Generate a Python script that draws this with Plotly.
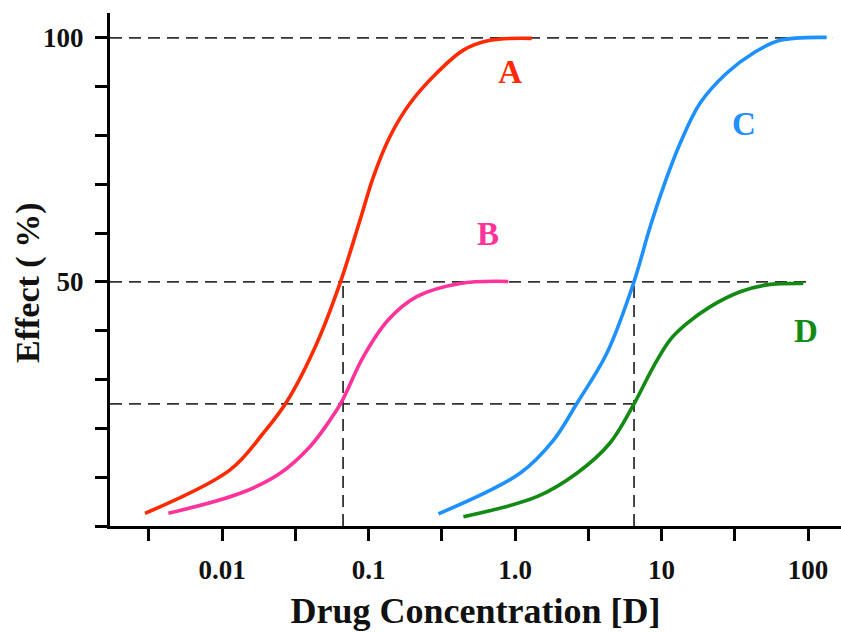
import plotly.graph_objects as go

# ---- data ----
a_x = [0.00298, 0.01135, 0.0191, 0.0277, 0.0443, 0.0638, 0.0875, 0.108, 0.140, 0.192, 0.292, 0.444, 0.675, 1.30]
a_y = [2.6, 11.5, 19.0, 25.5, 37.4, 49.7, 62.7, 71.6, 79.8, 86.6, 92.8, 97.5, 99.5, 99.9]

b_x = [0.0043, 0.0133, 0.0249, 0.0399, 0.0546, 0.0656, 0.0922, 0.136, 0.213, 0.422, 0.90]
b_y = [2.6, 6.7, 10.8, 16.3, 21.7, 25.5, 34.7, 42.2, 47.0, 49.7, 50.1]

c_x = [0.300, 1.08, 1.83, 2.64, 4.23, 6.43, 8.36, 10.3, 13.4, 18.3, 27.9, 42.4, 64.4, 134]
c_y = [2.5, 10.8, 17.6, 25.1, 35.4, 49.7, 61.3, 69.5, 78.4, 86.6, 92.8, 96.9, 99.5, 100.1]

d_x = [0.444, 1.41, 2.64, 4.45, 6.43, 8.79, 11.4, 14.9, 21.4, 34.4, 52.2, 92.9]
d_y = [1.9, 6.0, 10.8, 17.0, 24.8, 32.6, 38.1, 41.5, 44.9, 48.0, 49.4, 49.7]

ec50_ab = 0.067
ec50_cd = 6.49
levels = [100, 50, 25]
level_ends = [146, 106, 6.49]

x_tickvals = [0.00316, 0.01, 0.0316, 0.1, 0.316, 1, 3.16, 10, 31.6, 100]
x_ticktext = ["", "0.01", "", "0.1", "", "1.0", "", "10", "", "100"]
y_tickvals = [0, 10, 20, 30, 40, 50, 60, 70, 80, 90, 100]
y_ticktext = ["", "", "", "", "", "50", "", "", "", "", "100"]

labels = ["A", "B", "C", "D"]
colors = ["#FF2A00", "#FF3399", "#1E90FF", "#138A13"]

x_title = "Drug Concentration [D]"
y_title = "Effect ( %)"

x_range_log = [-2.765, 2.225]
x_left = 10 ** x_range_log[0]

FONT = "Liberation Serif, Times New Roman, serif"
DASH_COLOR = "#333333"

fig = go.Figure()

# dashed reference lines
for lvl, xe in zip(levels, level_ends):
    fig.add_trace(go.Scatter(x=[x_left, xe], y=[lvl, lvl], mode="lines",
                             line=dict(color=DASH_COLOR, width=1.8, dash="12px,7px"),
                             hoverinfo="skip", showlegend=False))
for xv in [ec50_ab, ec50_cd]:
    fig.add_trace(go.Scatter(x=[xv, xv], y=[0, 50], mode="lines",
                             line=dict(color=DASH_COLOR, width=1.8, dash="12px,7px"),
                             hoverinfo="skip", showlegend=False))

# curves
for xs, ys, col in zip([a_x, b_x, c_x, d_x], [a_y, b_y, c_y, d_y], colors):
    fig.add_trace(go.Scatter(x=xs, y=ys, mode="lines",
                             line=dict(color=col, width=3.6, shape="spline", smoothing=1.0),
                             showlegend=False))

# curve labels
label_pos = [(0.925, 92.4), (0.655, 59.2), (36.5, 81.8), (96.9, 39.3)]
for (lx, ly), txt, col in zip(label_pos, labels, colors):
    fig.add_trace(go.Scatter(x=[lx], y=[ly], mode="text", text=[txt],
                             textfont=dict(family=FONT, size=33, color=col, weight="bold"),
                             hoverinfo="skip", showlegend=False))

fig.update_layout(
    width=841, height=632,
    margin=dict(l=110, r=0, t=13, b=106),
    paper_bgcolor="white", plot_bgcolor="white",
    font=dict(family=FONT, color="#111111"),
)

# y axis title as a rotated annotation (placed slightly below plot centre, as in reference)
fig.add_annotation(
    text=y_title, textangle=-90, xref="paper", yref="paper",
    x=-0.112, y=0.474, xanchor="center", yanchor="middle", showarrow=False,
    font=dict(family=FONT, size=34, color="#111111", weight="bold"),
)

fig.update_xaxes(
    type="log", range=x_range_log, automargin=False,
    showgrid=False, zeroline=False,
    showline=True, linecolor="black", linewidth=3,
    ticks="outside", ticklen=12, tickwidth=3, tickcolor="black",
    tickvals=x_tickvals, ticktext=x_ticktext,
    tickfont=dict(family=FONT, size=27, color="#111111", weight="bold"),
    ticklabelstandoff=6,
    title=dict(text=x_title,
               font=dict(family=FONT, size=36, color="#111111", weight="bold"),
               standoff=14),
)
fig.update_yaxes(
    range=[0, 105.1], automargin=False,
    showgrid=False, zeroline=False,
    showline=True, linecolor="black", linewidth=3,
    ticks="outside", ticklen=12, tickwidth=3, tickcolor="black",
    tickvals=y_tickvals, ticktext=y_ticktext,
    tickfont=dict(family=FONT, size=27, color="#111111", weight="bold"),
    ticklabelstandoff=6,
)

fig.write_html("out.html",
               config={"displayModeBar": False},
               post_script="document.body.style.margin='0';document.body.style.overflow='hidden';")
